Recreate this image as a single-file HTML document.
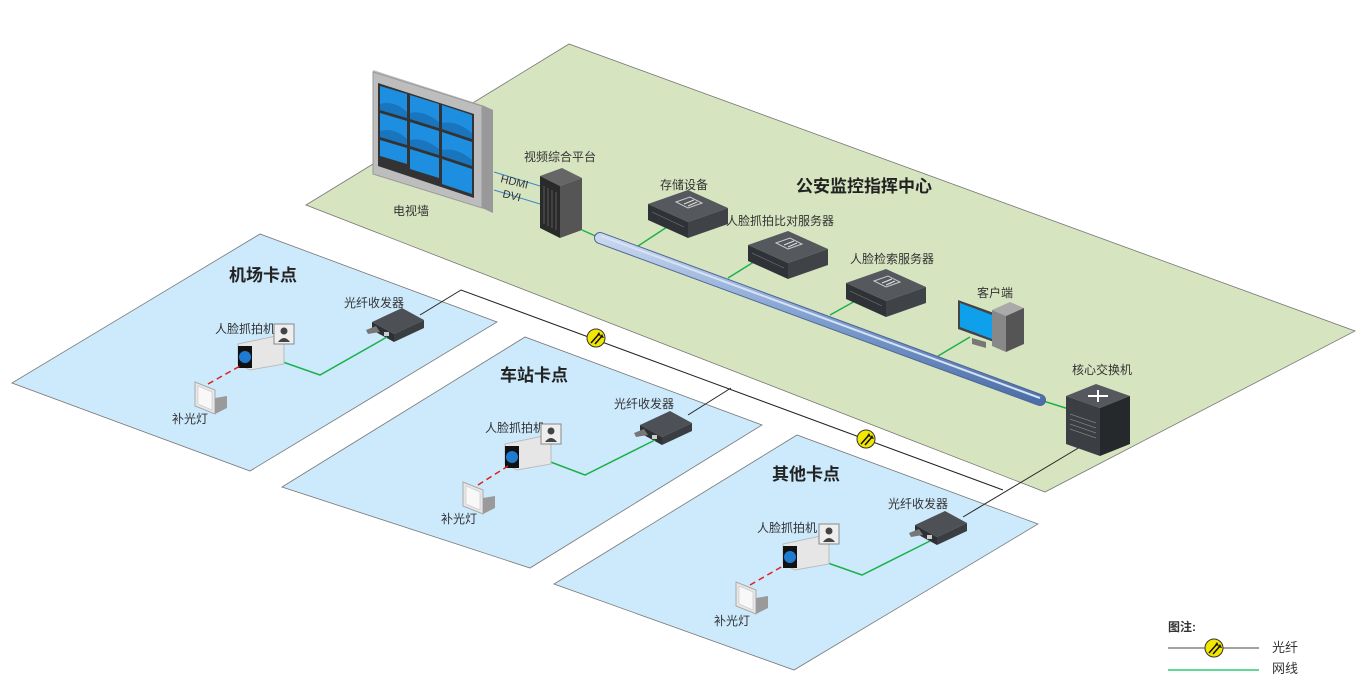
<!DOCTYPE html>
<html><head><meta charset="utf-8"><style>
html,body{margin:0;padding:0;background:#fff;}
svg{display:block;}
text{font-family:"Liberation Sans","Noto Sans CJK SC",sans-serif;fill:#333;}
.t{font-size:12px;}
.h{font-size:17px;font-weight:bold;fill:#222;}
</style></head><body>
<svg width="1372" height="691" viewBox="0 0 1372 691" xmlns="http://www.w3.org/2000/svg">
<defs>
<linearGradient id="pipe" x1="0" y1="0" x2="0" y2="1">
<stop offset="0" stop-color="#c9d8f0"/><stop offset="0.5" stop-color="#7f9fd0"/><stop offset="1" stop-color="#4d6fa8"/></linearGradient>
<g id="srv">
<polygon points="0,8 40,-6 80,12 40,26" fill="#55595e"/>
<polygon points="0,8 40,26 40,42 0,24" fill="#2f3337"/>
<polygon points="40,26 80,12 80,28 40,42" fill="#3f4348"/>
<polygon points="28,6 42,1 54,7 40,12" fill="none" stroke="#ccc" stroke-width="1"/>
<path d="M36,8 L46,4 M40,10 L49,6" stroke="#ddd" stroke-width="1.2"/>
<line x1="4" y1="16" x2="36" y2="31" stroke="#777" stroke-width="0.6"/>
</g>
<g id="trx">
<polygon points="0,10 30,-4 52,8 22,22" fill="#4d5156"/>
<polygon points="0,10 22,22 22,30 0,18" fill="#2d3135"/>
<polygon points="22,22 52,8 52,16 22,30" fill="#3a3e42"/>
<polygon points="-6,18 4,14 8,20 -4,22" fill="#777"/>
<rect x="12" y="20" width="5" height="4" fill="#ccc"/>
</g>
<g id="cam">
<polygon points="0,4 38,-4 46,2 46,24 12,30 0,24" fill="#e6e6e6" stroke="#bbb"/>
<rect x="0" y="6" width="14" height="22" fill="#111"/>
<circle cx="7" cy="17" r="6" fill="#1e7bd0"/>
<rect x="36" y="-16" width="20" height="20" fill="#eee" stroke="#888"/>
<circle cx="46" cy="-9" r="3.5" fill="#444"/><path d="M40,2 Q46,-6 52,2Z" fill="#444"/>
</g>
<g id="lamp">
<polygon points="0,0 20,8 20,32 0,24" fill="#e6e6e6" stroke="#aaa"/>
<polygon points="3,4 17,10 17,28 3,22" fill="#f8f8f8" stroke="#bbb" stroke-width="0.5"/>
<polygon points="20,16 32,14 32,26 20,32" fill="#9a9a9a"/>
</g>
<g id="fib">
<circle r="9" fill="#f3e600" stroke="#333" stroke-width="1"/>
<path d="M-5,5 L3,-4 M-1,6 L6,-2" stroke="#111" stroke-width="1.5"/>
<path d="M3,-6 L5,-2 L1,-3Z M6,-4 L8,0 L4,-1Z" fill="#111"/>
</g>
</defs>

<polygon points="306,205 569,44 1355,331 1045,492" fill="#d7e4c0" stroke="#777" stroke-width="0.8"/>
<polygon points="12,383 260,234 497,322 250,471" fill="#cdeafd" stroke="#777" stroke-width="0.8"/>
<polygon points="282,487 525,337 762,425 530,568" fill="#cdeafd" stroke="#777" stroke-width="0.8"/>
<polygon points="554,584 797,435 1038,524 794,670" fill="#cdeafd" stroke="#777" stroke-width="0.8"/>

<polyline points="420,315 461,290 1003,490" fill="none" stroke="#222" stroke-width="1"/>
<line x1="688" y1="415" x2="731" y2="388" stroke="#222" stroke-width="1"/>
<line x1="1080" y1="447" x2="963" y2="517" stroke="#222" stroke-width="1"/>
<use href="#fib" x="596" y="338"/>
<use href="#fib" x="866" y="439"/>

<polygon points="373,70 482,105 493,110 493,213 482,208 373,174" fill="#b9b9b9"/>
<polygon points="482,105 493,110 493,213 482,208" fill="#999"/>
<polygon points="373,72 482,106 482,208 373,174" fill="#bdbdbd" stroke="#999"/>
<polygon points="378,83 474,114 474,198 378,166" fill="#333"/>
<g fill="#1e8fe0">
<polygon points="380,86 407,94 407,118 380,110"/><polygon points="410,95 439,104 439,128 410,119"/><polygon points="442,105 472,115 472,139 442,129"/>
<polygon points="380,113 407,121 407,145 380,137"/><polygon points="410,122 439,131 439,155 410,146"/><polygon points="442,132 472,142 472,166 442,156"/>
<polygon points="380,140 407,148 407,164 380,156"/><polygon points="410,149 439,158 439,178 410,169"/><polygon points="442,159 472,169 472,194 442,184"/>
</g>
<g fill="#1565a8" opacity="0.6">
<path d="M380,104 Q394,100 407,112 L407,118 L380,110Z"/><path d="M410,113 Q424,110 439,122 L439,128 L410,119Z"/><path d="M442,123 Q457,120 472,133 L472,139 L442,129Z"/>
<path d="M380,131 Q394,127 407,139 L407,145 L380,137Z"/><path d="M410,140 Q424,137 439,149 L439,155 L410,146Z"/><path d="M442,150 Q457,147 472,160 L472,166 L442,156Z"/>
</g>
<text class="t" x="393" y="215">电视墙</text>
<line x1="494" y1="172" x2="540" y2="186" stroke="#3a86c8"/>
<line x1="494" y1="190" x2="540" y2="204" stroke="#3a86c8"/>
<text x="500" y="182" font-size="11" fill="#111" transform="rotate(14 500 182)">HDMI</text>
<text x="502" y="197" font-size="11" fill="#111" transform="rotate(14 502 197)">DVI</text>

<polygon points="540,176 562,168 582,178 560,186" fill="#666"/>
<polygon points="540,176 560,186 560,238 540,228" fill="#2a2a2a"/>
<polygon points="560,186 582,178 582,230 560,238" fill="#555"/>
<g stroke="#888" stroke-width="0.5"><line x1="544" y1="186" x2="544" y2="224"/><line x1="548" y1="188" x2="548" y2="226"/><line x1="552" y1="190" x2="552" y2="228"/><line x1="556" y1="192" x2="556" y2="230"/></g>
<text class="t" x="524" y="161">视频综合平台</text>

<g stroke="#1db14b" stroke-width="1.5" fill="none">
<line x1="582" y1="230" x2="600" y2="238"/>
<line x1="632" y1="250" x2="667" y2="227"/>
<line x1="728" y1="278" x2="765" y2="255"/>
<line x1="830" y1="315" x2="866" y2="295"/>
<line x1="938" y1="356" x2="970" y2="337"/>
<line x1="1040" y1="400" x2="1072" y2="410"/>
</g>
<line x1="600" y1="238" x2="1040" y2="400" stroke="#4d6592" stroke-width="12" stroke-linecap="round"/>
<line x1="600" y1="238" x2="1040" y2="400" stroke="url(#pipe)" stroke-width="10" stroke-linecap="round"/>
<line x1="601" y1="236" x2="1040" y2="398" stroke="#d6e2f5" stroke-width="2"/>

<use href="#srv" x="648" y="196"/>
<text class="t" x="660" y="189">存储设备</text>
<use href="#srv" x="748" y="237"/>
<text class="t" x="726" y="225">人脸抓拍比对服务器</text>
<use href="#srv" x="846" y="275"/>
<text class="t" x="850" y="263">人脸检索服务器</text>

<polygon points="958,300 994,313 994,342 958,329" fill="#444"/>
<polygon points="960,303 992,315 992,339 960,327" fill="#0fa0ec"/>
<polygon points="972,338 986,342 986,348 972,344" fill="#777"/>
<polygon points="992,310 1010,302 1024,308 1006,316" fill="#aaa"/>
<polygon points="992,310 1006,316 1006,352 992,346" fill="#888"/>
<polygon points="1006,316 1024,308 1024,344 1006,352" fill="#555"/>
<text class="t" x="977" y="297">客户端</text>

<polygon points="1066,396 1096,384 1130,396 1100,408" fill="#55595e"/>
<polygon points="1066,396 1100,408 1100,456 1066,444" fill="#3b3f44"/>
<polygon points="1100,408 1130,396 1130,444 1100,456" fill="#26292c"/>
<path d="M1088,396 L1108,396 M1098,390 L1098,402" stroke="#fff" stroke-width="2"/>
<g stroke="#999" stroke-width="0.6"><line x1="1070" y1="414" x2="1096" y2="423"/><line x1="1070" y1="419" x2="1096" y2="428"/><line x1="1070" y1="424" x2="1096" y2="433"/><line x1="1070" y1="429" x2="1096" y2="438"/></g>
<text class="t" x="1072" y="374">核心交换机</text>

<text class="h" x="796" y="192">公安监控指挥中心</text>

<text class="h" x="229" y="281">机场卡点</text>
<text class="t" x="344" y="307">光纤收发器</text>
<use href="#trx" x="372" y="312"/>
<text class="t" x="215" y="333">人脸抓拍机</text>
<polyline points="280,361 320,375 387,337" fill="none" stroke="#1db14b" stroke-width="1.5"/>
<use href="#cam" x="238" y="340"/>
<line x1="208" y1="384" x2="240" y2="366" stroke="#e02020" stroke-width="1.5" stroke-dasharray="6,4"/>
<use href="#lamp" x="195" y="382"/>
<text class="t" x="172" y="423">补光灯</text>

<text class="h" x="500" y="381">车站卡点</text>
<text class="t" x="614" y="408">光纤收发器</text>
<use href="#trx" x="640" y="415"/>
<text class="t" x="485" y="432">人脸抓拍机</text>
<polyline points="548,461 585,475 655,440" fill="none" stroke="#1db14b" stroke-width="1.5"/>
<use href="#cam" x="505" y="440"/>
<line x1="478" y1="485" x2="508" y2="466" stroke="#e02020" stroke-width="1.5" stroke-dasharray="6,4"/>
<use href="#lamp" x="463" y="482"/>
<text class="t" x="441" y="523">补光灯</text>

<text class="h" x="772" y="480">其他卡点</text>
<text class="t" x="888" y="508">光纤收发器</text>
<use href="#trx" x="915" y="515"/>
<text class="t" x="757" y="532">人脸抓拍机</text>
<polyline points="825,562 862,575 930,541" fill="none" stroke="#1db14b" stroke-width="1.5"/>
<use href="#cam" x="783" y="540"/>
<line x1="750" y1="585" x2="783" y2="566" stroke="#e02020" stroke-width="1.5" stroke-dasharray="6,4"/>
<use href="#lamp" x="736" y="582"/>
<text class="t" x="714" y="625">补光灯</text>

<text x="1168" y="631" font-size="12" font-weight="bold" fill="#222">图注:</text>
<line x1="1168" y1="648" x2="1259" y2="648" stroke="#444"/>
<use href="#fib" x="1214" y="648"/>
<text class="t" x="1272" y="652" style="font-size:13px">光纤</text>
<line x1="1168" y1="670" x2="1259" y2="670" stroke="#2ecc71" stroke-width="1.5"/>
<text class="t" x="1272" y="673" style="font-size:13px">网线</text>
</svg>
</body></html>
